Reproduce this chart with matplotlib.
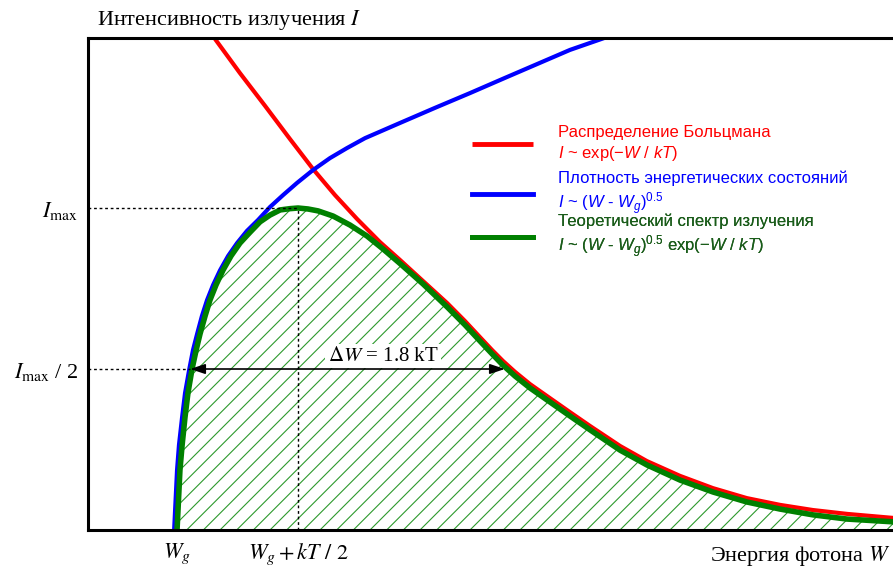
import matplotlib
matplotlib.use("Agg")
import matplotlib.pyplot as plt

# W in units of kT measured from Wg, intensity in units of Imax
green_x = [0.000, 0.004, 0.012, 0.021, 0.033, 0.045, 0.062, 0.079, 0.095, 0.116,
           0.136, 0.161, 0.190, 0.223, 0.260, 0.302, 0.343, 0.384, 0.426, 0.467,
           0.500, 0.541, 0.583, 0.645, 0.715, 0.785, 0.851, 0.921, 1.017, 1.116,
           1.190, 1.252, 1.302, 1.347, 1.397, 1.459, 1.529, 1.624, 1.707, 1.831,
           1.942, 2.079, 2.215, 2.355, 2.492, 2.628, 2.769, 2.967]
green_y = [0.000, 0.062, 0.186, 0.264, 0.351, 0.425, 0.500, 0.559, 0.609, 0.665,
           0.714, 0.761, 0.807, 0.851, 0.891, 0.925, 0.957, 0.978, 0.994, 0.998,
           1.000, 0.997, 0.991, 0.975, 0.947, 0.913, 0.873, 0.828, 0.764, 0.693,
           0.637, 0.587, 0.547, 0.512, 0.478, 0.441, 0.404, 0.354, 0.311, 0.248,
           0.202, 0.155, 0.118, 0.087, 0.065, 0.047, 0.034, 0.025]

red_x = [0.157, 0.260, 0.364, 0.467, 0.562, 0.653, 0.744, 0.839, 0.921, 1.017,
         1.116, 1.190, 1.252, 1.302, 1.347, 1.397, 1.459, 1.529, 1.624, 1.707,
         1.831, 1.942, 2.079, 2.215, 2.355, 2.492, 2.628, 2.769, 2.967]
red_y = [1.525, 1.419, 1.317, 1.214, 1.121, 1.040, 0.966, 0.894, 0.839, 0.773,
         0.705, 0.649, 0.599, 0.559, 0.525, 0.491, 0.453, 0.416, 0.366, 0.323,
         0.261, 0.214, 0.168, 0.130, 0.099, 0.078, 0.062, 0.050, 0.037]

blue_x = [-0.012, -0.008, 0.000, 0.008, 0.021, 0.033, 0.050, 0.066, 0.083, 0.103,
          0.124, 0.149, 0.178, 0.211, 0.248, 0.289, 0.335, 0.384, 0.438, 0.496,
          0.562, 0.632, 0.702, 0.777, 0.921, 1.066, 1.211, 1.355, 1.488, 1.624,
          1.777]
blue_y = [0.000, 0.062, 0.186, 0.264, 0.351, 0.425, 0.497, 0.559, 0.609, 0.665,
          0.714, 0.761, 0.807, 0.851, 0.891, 0.929, 0.963, 1.003, 1.040, 1.078,
          1.118, 1.155, 1.186, 1.217, 1.264, 1.311, 1.357, 1.404, 1.447, 1.491,
          1.531]

peak_x, peak_y = 0.5, 1.0
half_left, half_right = 0.054, 1.355
dw_label_x = 0.851

labels = [
    "Распределение Больцмана\n$I$ ~ exp$(-W\\ /\\ kT)$",
    "Плотность энергетических состояний\n$I$ ~ ($W$ - $W_g$)$^{0.5}$",
    "Теоретический спектр излучения\n$I$ ~ ($W$ - $W_g$)$^{0.5}$ exp$(-W\\ /\\ kT)$",
]
text_colors = ["#ff0000", "#0000ff", "#1a5c1a"]
legend_rows_px = [144, 194, 237]

plt.rcParams["font.family"] = ["Liberation Serif", "DejaVu Serif"]
plt.rcParams["mathtext.fontset"] = "stix"
plt.rcParams["mathtext.rm"] = "Liberation Sans"
plt.rcParams["mathtext.it"] = "Liberation Sans:italic"
plt.rcParams["hatch.linewidth"] = 0.8

fig = plt.figure(figsize=(8.93, 5.68), dpi=100)
ax = fig.add_axes([88 / 893, 38 / 568, 805 / 893, 492 / 568])

ax.fill_between(green_x, green_y, 0, facecolor="none", edgecolor="#2e9a2e",
                hatch="//", linewidth=0)

red_line, = ax.plot(red_x, red_y, color="#ff0000", lw=3, solid_capstyle="butt")
blue_line, = ax.plot(blue_x, blue_y, color="#0000ff", lw=3)
green_line, = ax.plot(green_x, green_y, color="#008000", lw=4)

xmin, xmax = -0.368, 2.959
ax.set_xlim(xmin, xmax)
ax.set_ylim(0, 1.528)

# guide lines
ax.plot([xmin, peak_x], [peak_y, peak_y], color="black", lw=1, ls=(0, (2, 2)))
ax.plot([peak_x, peak_x], [0, peak_y], color="black", lw=1, ls=(0, (2, 2)))
ax.plot([xmin, half_left], [peak_y / 2, peak_y / 2], color="black", lw=1, ls=(0, (2, 2)))

ax.annotate("", xy=(half_left, peak_y / 2), xytext=(half_right, peak_y / 2),
            arrowprops=dict(arrowstyle="<|-|>,head_length=0.45,head_width=0.15",
                            color="black", lw=1.2, mutation_scale=20,
                            shrinkA=0, shrinkB=0))
ax.text(dw_label_x, peak_y * 0.54, r"$\Delta W$ = 1.8 kT", fontsize=15,
        ha="center", va="center",
        bbox=dict(facecolor="white", edgecolor="none", pad=2))

for side in ["left", "bottom", "top"]:
    ax.spines[side].set_linewidth(2.2)
ax.spines["right"].set_visible(False)

ax.set_xticks([0, peak_x], [r"$W_g$", r"$W_g + kT\ /\ 2$"])
ax.set_yticks([peak_y, peak_y / 2], [r"$I_{\mathrm{max}}$", r"$I_{\mathrm{max}}$ / 2"])
ax.tick_params(axis="x", length=0, pad=8, labelsize=16)
ax.tick_params(axis="y", length=0, pad=7, labelsize=16)

ax.text(0.011, 1.037, "Интенсивность излучения $I$", transform=ax.transAxes,
        fontsize=16, va="center", ha="left")
ax.text(0.997, -0.052, "Энергия фотона $W$", transform=ax.transAxes,
        fontsize=16, va="center", ha="right")

# one legend per entry so each row sits where the reference has it
for line, label, color, row in zip([red_line, blue_line, green_line], labels,
                                   text_colors, legend_rows_px):
    leg = ax.legend([line], [label], loc="center left",
                    bbox_to_anchor=(472 / 893, 1 - row / 568),
                    bbox_transform=fig.transFigure, frameon=False,
                    prop={"family": "Liberation Sans", "size": 12},
                    handlelength=3.65, handletextpad=1.5,
                    borderpad=0, borderaxespad=0)
    t = leg.get_texts()[0]
    t.set_color(color)
    t.set_math_fontfamily("custom")
    t.set_linespacing(1.25)
    leg.legend_handles[0].set_linewidth(3.5)
    ax.add_artist(leg)

fig.savefig("out.png", dpi=100)
